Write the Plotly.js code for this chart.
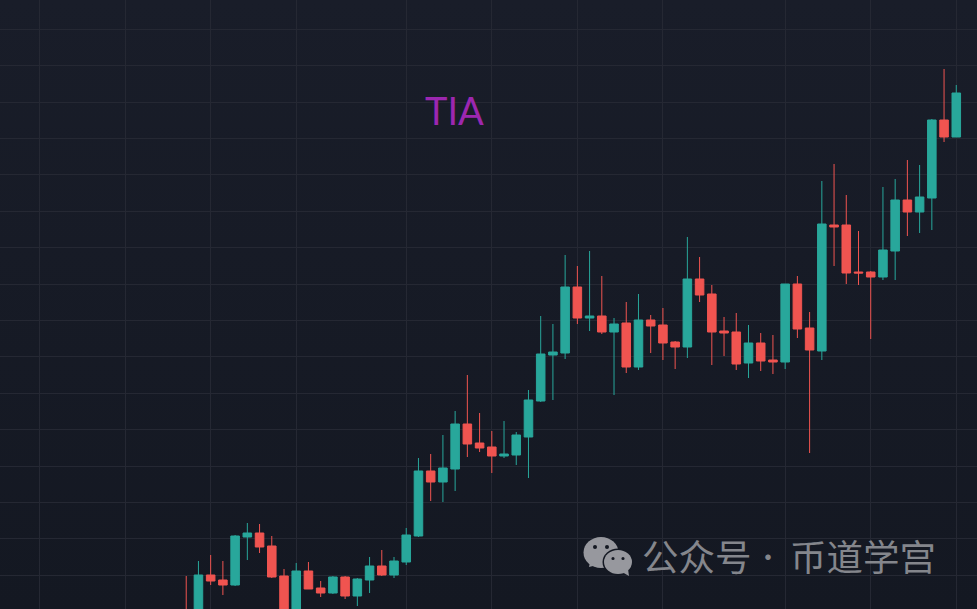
<!DOCTYPE html>
<html><head><meta charset="utf-8">
<script src="https://cdn.plot.ly/plotly-3.0.1.min.js"></script>
<style>html,body{margin:0;padding:0;width:977px;height:609px;overflow:hidden;background:linear-gradient(#191d29,#141822)}</style>
</head><body><div id="chart" style="width:977px;height:609px"></div>
<script>
const open_ = [-.03,-.21,.34,.29,.24,.72,.76,.63,.33,-.16,.38,.21,.16,.32,.13,.29,.43,.34,.47,.73,1.38,1.27,1.40,1.85,1.66,1.62,1.53,1.54,1.72,2.08,2.54,2.56,3.22,2.91,2.93,2.77,2.86,2.42,2.89,2.84,2.67,2.62,3.30,3.15,2.78,2.77,2.46,2.66,2.49,2.47,3.25,2.81,2.58,3.84,3.84,3.37,3.37,3.32,3.58,4.09,3.97,4.11,4.89,4.72];
const high  = [.33,.48,.54,.48,.74,.86,.85,.73,.40,.46,.47,.28,.33,.33,.31,.52,.59,.52,.81,1.51,1.55,1.74,1.98,2.34,1.96,1.78,1.88,1.77,2.19,2.93,2.85,3.54,3.43,3.58,3.33,2.91,3.07,3.15,2.94,3.01,2.68,3.72,3.52,3.24,2.92,2.96,2.84,2.76,2.74,3.25,3.33,2.97,4.28,4.45,4.14,3.78,3.38,4.22,4.30,4.49,4.44,4.90,5.40,5.24];
const low   = [-.21,-.31,.24,.14,.23,.49,.56,.31,-.21,-.21,.20,.12,.15,.10,.03,.16,.33,.31,.44,.72,1.08,1.07,1.18,1.52,1.57,1.36,1.51,1.44,1.31,2.07,2.09,2.50,2.85,2.78,2.75,2.14,2.36,2.39,2.56,2.49,2.40,2.51,3.07,2.44,2.53,2.39,2.31,2.38,2.35,2.40,2.71,1.56,2.49,3.43,3.25,3.24,2.70,3.29,3.29,3.73,3.76,3.79,4.67,4.72];
const close_= [-.16,.34,.28,.24,.73,.76,.62,.32,-.16,.38,.20,.16,.32,.13,.30,.43,.34,.48,.74,1.38,1.27,1.41,1.85,1.65,1.61,1.53,1.55,1.74,2.09,2.55,2.57,3.22,2.91,2.93,2.77,2.85,2.42,2.89,2.83,2.66,2.62,3.30,3.14,2.77,2.76,2.45,2.66,2.48,2.47,3.25,2.80,2.59,3.85,3.82,3.36,3.36,3.32,3.59,4.09,3.97,4.12,4.89,4.72,5.16];
const index_ = open_.map((_, i) => i);
const xGrid = [-12,-5,2,9,18,25,32,39,49,56,63];
const yGrid = [.337,.701,1.065,1.429,1.793,2.157,2.521,2.885,3.249,3.613,3.977,4.341,4.705,5.069,5.433,5.797];
const titleText = "TIA";
const watermarkLeft = "公众号";
const watermarkDot = "·";
const watermarkRight = "币道学宫";

const W = 977, H = 609;
const fx = p => p / W, fy = p => 1 - p / H;
const iconColor = "#97989e", bg = "#141822";
function ell(cx, cy, rx, ry, fill) {
  return {type:"circle", xref:"paper", yref:"paper", layer:"above", fillcolor:fill, line:{width:0},
    x0:fx(cx-rx), x1:fx(cx+rx), y0:fy(cy+ry), y1:fy(cy-ry)};
}
function poly(pts, fill) {
  return {type:"path", xref:"paper", yref:"paper", layer:"above", fillcolor:fill, line:{width:0},
    path:"M"+pts.map(p=>fx(p[0])+","+fy(p[1])).join("L")+"Z"};
}
const shapes = [
  ell(601,552.5,17.5,15.5,iconColor),
  poly([[590,562],[589,567],[597,565]],iconColor),
  ell(618,562,15.5,13.5,bg),
  ell(618,562,14,12,iconColor),
  poly([[622,572],[629,576],[628,569]],iconColor),
  ell(595,547,2,2,bg), ell(607,547,2,2,bg),
  ell(613,558.5,1.6,1.6,bg), ell(623,558.5,1.6,1.6,bg)
];

const trace = {
  type:"candlestick", x:index_, open:open_, high:high, low:low, close:close_,
  increasing:{line:{color:"#28a79b",width:1},fillcolor:"#28a79b"},
  decreasing:{line:{color:"#f05450",width:1},fillcolor:"#f05450"},
  whiskerwidth:0, hoverinfo:"skip", showlegend:false
};
const layout = {
  width:W, height:H, margin:{l:0,r:0,t:0,b:0},
  paper_bgcolor:"rgba(0,0,0,0)", plot_bgcolor:"rgba(0,0,0,0)",
  boxgap:0, showlegend:false,
  xaxis:{range:[-15.235,64.695], tickmode:"array", tickvals:xGrid, showticklabels:false, ticks:"",
    showgrid:true, gridcolor:"#252833", gridwidth:1, zeroline:false, showline:false,
    rangeslider:{visible:false}, fixedrange:true},
  yaxis:{range:[0,6.09], tickmode:"array", tickvals:yGrid, showticklabels:false, ticks:"",
    showgrid:true, gridcolor:"#252833", gridwidth:1, zeroline:false, showline:false, fixedrange:true},
  shapes:shapes,
  annotations:[
    {text:titleText, xref:"paper", yref:"paper", x:fx(454), y:fy(110.5), xanchor:"center", yanchor:"middle", showarrow:false,
     font:{family:"Lato, sans-serif", size:38, color:"#9c27b0"}},
    {text:watermarkLeft, xref:"paper", yref:"paper", x:fx(639.5), y:fy(555.5), xanchor:"left", yanchor:"middle", showarrow:false,
     font:{family:"'Noto Sans CJK SC'", size:36.5, color:"#84868c"}},
    {text:watermarkDot, xref:"paper", yref:"paper", x:fx(768), y:fy(555.5), xanchor:"center", yanchor:"middle", showarrow:false,
     font:{family:"'Noto Sans CJK SC'", size:26, color:"#84868c"}},
    {text:watermarkRight, xref:"paper", yref:"paper", x:fx(787.5), y:fy(555.5), xanchor:"left", yanchor:"middle", showarrow:false,
     font:{family:"'Noto Sans CJK SC'", size:36.5, color:"#84868c"}}
  ]
};
Plotly.newPlot("chart",[trace],layout,{displayModeBar:false,staticPlot:true});
</script></body></html>
